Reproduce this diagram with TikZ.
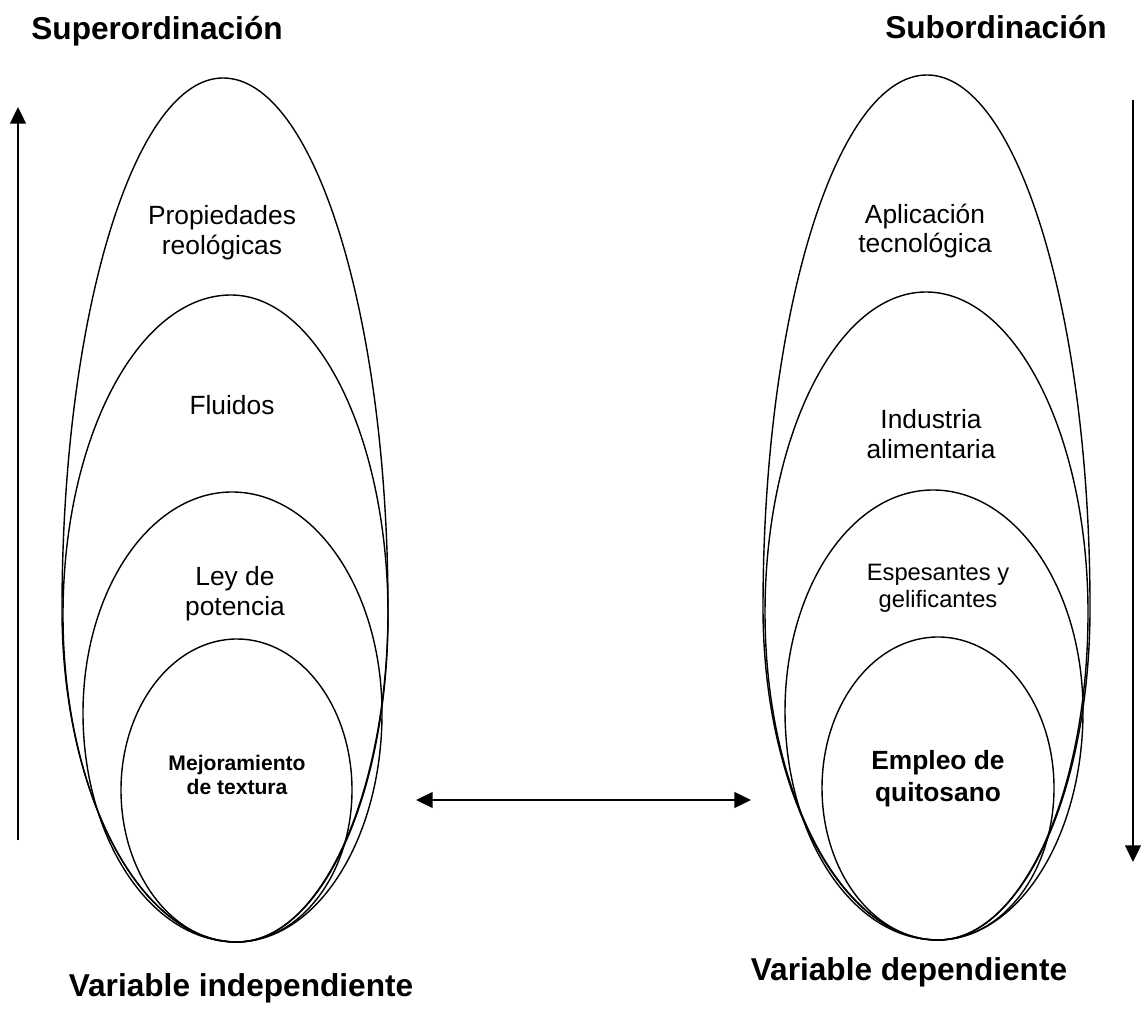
\documentclass[tikz,border=0pt]{standalone}
\usepackage{fontspec}
\setmainfont{Liberation Sans}
\usepackage{tikz}
\usetikzlibrary{arrows.meta}

\tikzset{
  oval/.style={draw=black, line width=0.8pt},
  lbl/.style={align=center, inner sep=0pt, font=\fontsize{15}{17}\selectfont},
  head/.style={inner sep=0pt, font=\fontsize{18}{21}\selectfont\bfseries},
  tip/.style={-{Triangle[length=9.5pt, width=9pt]}},
  axis/.style={line width=1.1pt, tip},
}

\begin{document}
\begin{tikzpicture}[x=0.02cm, y=0.02cm]
% one unit = one pixel of the 1141 x 1010 frame, origin at bottom left.
% The ovals are egg shapes (taller above the widest line than below),
% built from four quarter arcs. Arguments are read off the frame with y
% measured downwards: left x, right x, widest y, top y, bottom y,
% x of the top point, x of the bottom point.
\useasboundingbox (0,0) rectangle (1141,1010);
\def\egg#1#2#3#4#5#6#7{
  \draw[oval] (#1,1010-#3)
    arc[start angle=180, end angle=90, x radius={#6-#1}, y radius={#3-#4}]
    arc[start angle=90, end angle=0, x radius={#2-#6}, y radius={#3-#4}]
    arc[start angle=0, end angle=-90, x radius={#2-#7}, y radius={#5-#3}]
    arc[start angle=270, end angle=180, x radius={#7-#1}, y radius={#5-#3}]
    -- cycle;
}
% left set (independent variable)
\egg{62}{388}{610}{78}{942}{223}{237}
\egg{63}{388}{615}{295}{942}{231}{237}
\egg{83}{382}{713}{492}{942}{232}{236}
\egg{121}{352}{790}{639}{942}{237}{236}
% right set (dependent variable)
\egg{763}{1090}{608}{75}{940}{927}{938}
\egg{765}{1088}{613}{292}{940}{926}{938}
\egg{785}{1083}{711}{490}{940}{933}{937}
\egg{822}{1054}{788}{637}{940}{938}{938}
% headings
\node[head] (super) at (157,979) {Superordinación};
\node[head] (sub) at (996,983) {Subordinación};
\node[head] (indep) at (241,22) {Variable independiente};
\node[head] (dep) at (909,38) {Variable dependiente};
% left labels
\node[lbl] (prop) at (222,777) {Propiedades\\reológicas};
\node[lbl] (fluid) at (232,605) {Fluidos};
\node[lbl] (ley) at (235,416) {Ley de\\potencia};
\node[lbl, font=\fontsize{12}{13.7}\selectfont\bfseries] (mejora) at (237,235)
  {Mejoramiento\\de textura};
% right labels
\node[lbl] (aplic) at (925,779) {Aplicación\\tecnológica};
\node[lbl] (indus) at (931,576) {Industria\\alimentaria};
\node[lbl, font=\fontsize{13.5}{15.4}\selectfont] (espes) at (938,422)
  {Espesantes y\\gelificantes};
\node[lbl, font=\fontsize{15}{18}\selectfont\bfseries] (quito) at (938,231)
  {Empleo de\\quitosano};
% arrows
\coordinate (upfoot) at (18,170);
\coordinate (uptip) at (18,903);
\coordinate (downfoot) at (1133,910);
\coordinate (downtip) at (1133,148);
\coordinate (linkl) at (416,210);
\coordinate (linkr) at (751,210);
\draw[axis] (upfoot) -- (uptip);
\draw[axis] (downfoot) -- (downtip);
\draw[axis, {Triangle[length=9.5pt, width=9pt]}-{Triangle[length=9.5pt, width=9pt]}]
  (linkl) -- (linkr);
\end{tikzpicture}
\end{document}
